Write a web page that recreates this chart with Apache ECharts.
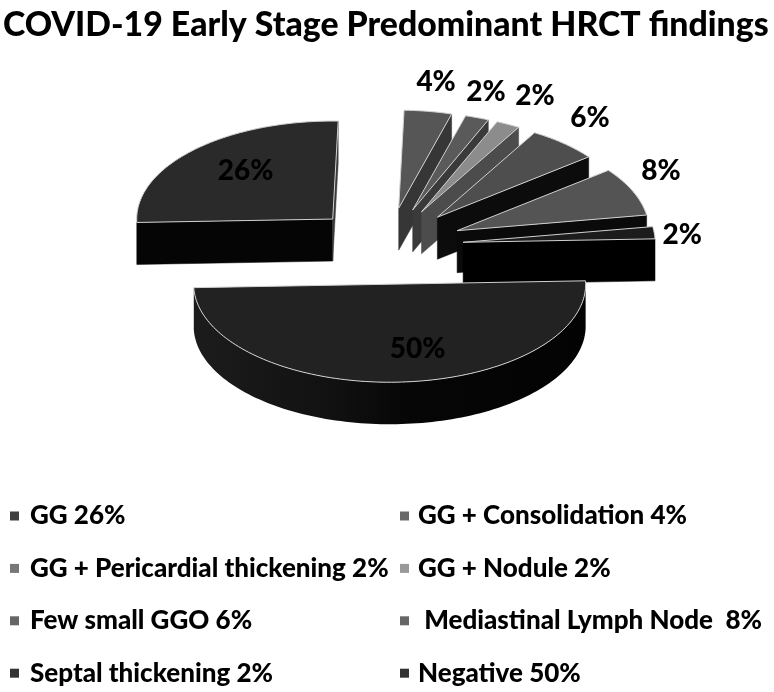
<!DOCTYPE html>
<html><head><meta charset="utf-8">
<style>html,body{margin:0;padding:0;background:#fff}#c{width:774px;height:692px}</style>
<script src="https://cdn.jsdelivr.net/npm/echarts@6/dist/echarts.min.js"></script>
</head><body><div id="c"></div>
<script>
const categories = ['GG 26%','GG + Consolidation 4%','GG + Pericardial thickening 2%','GG + Nodule 2%','Few small GGO 6%',' Mediastinal Lymph Node  8%','Septal thickening 2%','Negative 50%'];
const values = [26,4,2,2,6,8,2,50];
const sliceLabels = ['26%','4%','2%','2%','6%','8%','2%','50%'];

const topColors  = ['#2a2a2a','#565656','#5a5a5a','#8c8c8c','#4e4e4e','#545454','#1c1c1c','#222222'];
const wallColors = ['#050505','#363636','#3a3a3a','#4c4c4c','#0c0c0c','#0a0a0a','#000000','#101010'];
const legendColors = ['#404040','#6a6a6a','#777777','#999999','#666666','#666666','#333333','#333333'];
const labelNudge = [[52,21],[8,-29],[9,-26],[27,-28],[26,-26],[28,-20],[28,2],[21,-33]];

const C = {cx:387, cy:246, rx:196, rxSmall:192, ry:98, depth:42, explode:76.5, flat:0.5, startDeg:-92};
const FONT = 'Lato';

const totals = values.reduce((a,b)=>a+b,0);
let cum = C.startDeg;
const spans = values.map(v=>{const a0=cum; cum+=v/totals*360; return [a0,cum];});
const rad = d=>d*Math.PI/180;

function sliceRender(i){
  return function(params, api){
    const v = api.value(0);
    const a0 = spans[i][0], a1 = a0 + v/totals*360, mid=(a0+a1)/2;
    const ax = C.cx + C.explode*Math.sin(rad(mid));
    const ay = C.cy - C.explode*C.flat*Math.cos(rad(mid));
    const rx = (a0>=0 && a1<=90) ? C.rxSmall : C.rx;
    const pt = d=>[ax+rx*Math.sin(rad(d)), ay-C.ry*Math.cos(rad(d))];
    const arc=[]; const n=Math.max(6,Math.ceil((a1-a0)/1.5));
    for(let k=0;k<=n;k++) arc.push(pt(a0+(a1-a0)*k/n));
    const down=p=>[p[0],p[1]+C.depth];
    const kids=[];
    const wall=(pts,fill)=>kids.push({type:'polygon',shape:{points:pts},style:{fill:fill,stroke:fill,lineWidth:0.5}});
    const P0=arc[0], P1=arc[arc.length-1], A=[ax,ay];
    if(P0[0]<ax) wall([A,P0,down(P0),down(A)],wallColors[i]);
    if(P1[0]>ax) wall([P1,A,down(A),down(P1)],i===0?'#3a3a3a':wallColors[i]);
    const vis=[]; for(let k=0;k<=n;k++){const d=a0+(a1-a0)*k/n; const m=((d%360)+360)%360; if(m>=90&&m<=270) vis.push(arc[k]);}
    if(vis.length>1){
      kids.push({type:'polygon',shape:{points:vis.concat(vis.slice().reverse().map(down))},
        style:{fill:{type:'linear',x:0,y:0,x2:1,y2:0,colorStops:[{offset:0,color:'#1c1c1c'},{offset:0.35,color:'#111111'},{offset:0.55,color:'#060606'},{offset:1,color:'#030303'}]}}});
    }
    kids.push({type:'polygon',shape:{points:[A].concat(arc)},style:{fill:topColors[i],stroke:'#d0d0d0',lineWidth:1}});
    const m=pt(mid);
    kids.push({type:'text',x:m[0]+labelNudge[i][0],y:m[1]+labelNudge[i][1],
      style:{text:sliceLabels[i],fill:'#000',font:'900 28px '+FONT,align:'center',verticalAlign:'middle'}});
    return {type:'group',children:kids};
  };
}

const series = categories.map((name,i)=>({
  type:'custom',name:name,coordinateSystem:'none',silent:true,animation:false,
  itemStyle:{color:legendColors[i]},
  renderItem:sliceRender(i),
  data:[[values[i]]]
}));

const legendBase = {orient:'vertical',icon:'rect',itemWidth:9,itemHeight:9,itemGap:22.4,selectedMode:false,padding:0};
const legendText = pad=>({fontFamily:FONT,fontWeight:900,fontSize:26,color:'#000',lineHeight:30,padding:[0,0,0,pad]});
const legendData = idx=>idx.map(i=>({name:categories[i],itemStyle:{color:legendColors[i]}}));

const chart = echarts.init(document.getElementById('c'),null,{renderer:'canvas'});
chart.setOption({
  animation:false,
  backgroundColor:'#fff',
  title:{text:'COVID-19 Early Stage Predominant HRCT findings',left:3,top:8,padding:0,
    textStyle:{fontFamily:FONT,fontWeight:900,fontSize:33.8,color:'#000'}},
  legend:[
    Object.assign({},legendBase,{left:10,top:501,textStyle:legendText(6),data:legendData([0,2,4,6])}),
    Object.assign({},legendBase,{left:400,top:501,textStyle:legendText(4),data:legendData([1,3,5,7])})
  ],
  series:series
});
</script></body></html>
